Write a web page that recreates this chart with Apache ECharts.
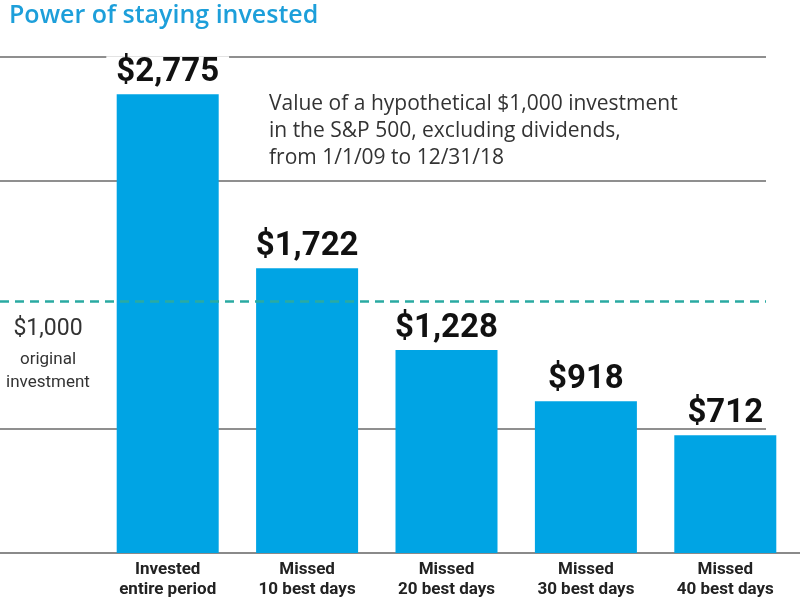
<!DOCTYPE html>
<html>

<head>
  <meta charset="utf-8">
  <title>Power of staying invested</title>
  <script src="https://cdn.jsdelivr.net/npm/echarts@6/dist/echarts.min.js"></script>
</head>

<body style="margin:0; background:#fff;">
  <div id="main" style="width: 800px; height: 607px;"></div>
  <script type="text/javascript">
    // values
    var categories = ['Invested\nentire period', 'Missed\n10 best days', 'Missed\n20 best days', 'Missed\n30 best days', 'Missed\n40 best days'];
    var values = [2775, 1722, 1228, 918, 712];
    var gridTicks = [0, 750, 1500, 2250, 3000];
    // where the dashed "$1,000 original investment" line sits on the drawn scale
    var originalLevel = 1520;

    var narrow = "Roboto, sans-serif";

    var myChart = echarts.init(document.getElementById('main'));

    var barData = values.map(function (v, i) {
      // the tallest label sits on a gridline and blanks it out
      if (i === 0) return { value: v, label: { backgroundColor: '#fff', padding: [0, 10] } };
      return v;
    });

    myChart.setOption({
      animation: false,
      title: [{
        text: 'Power of staying invested',
        left: 4, top: -2,
        textStyle: { color: '#1d9fda', fontSize: 25, fontWeight: 600, fontFamily: 'Open Sans' }
      }, {
        text: 'Value of a hypothetical $1,000 investment\nin the S&P 500, excluding dividends,\nfrom 1/1/09 to 12/31/18',
        left: 264, top: 86,
        textStyle: { color: '#333', fontSize: 21, fontWeight: 'normal', fontFamily: 'Open Sans', lineHeight: 27 }
      }, {
        text: '$1,000',
        left: 43, top: 313, textAlign: 'center',
        textStyle: { color: '#333', fontSize: 23, fontWeight: 'normal', fontFamily: narrow }
      }, {
        text: 'original\ninvestment',
        left: 43, top: 343, textAlign: 'center',
        textStyle: { color: '#333', fontSize: 17, fontWeight: 'normal', fontFamily: narrow, lineHeight: 23 }
      }],
      grid: [
        // horizontal gridlines
        { left: 0, right: 34, top: 57, bottom: 54 },
        // baseline, full width
        { left: 0, right: 0, top: 57, bottom: 54 },
        // bars
        { left: 98, right: 5, top: 57, bottom: 54 }
      ],
      xAxis: [
        { gridIndex: 0, type: 'value', min: 0, max: 1, show: false },
        {
          gridIndex: 1, type: 'value', min: 0, max: 1,
          axisLine: { show: true, onZero: false, lineStyle: { color: '#8a8a8a', width: 2 } },
          axisTick: { show: false }, axisLabel: { show: false }, splitLine: { show: false }
        },
        {
          gridIndex: 2, type: 'category', data: categories,
          axisLine: { show: false }, axisTick: { show: false },
          axisLabel: {
            interval: 0, margin: 7, color: '#222', fontSize: 17, fontWeight: 'bold',
            fontFamily: narrow, lineHeight: 20
          }
        }
      ],
      yAxis: [
        {
          gridIndex: 0, type: 'value', min: gridTicks[0], max: gridTicks[gridTicks.length - 1],
          interval: gridTicks[1] - gridTicks[0],
          axisLine: { show: false }, axisTick: { show: false }, axisLabel: { show: false },
          splitLine: {
            show: true,
            lineStyle: { color: ['#6a6a6a', '#6a6a6a', 'rgba(0,0,0,0)', '#6a6a6a', '#6a6a6a'], width: 1.5 }
          }
        },
        { gridIndex: 1, type: 'value', min: 0, max: 3000, show: false },
        { gridIndex: 2, type: 'value', min: 0, max: 3000, show: false }
      ],
      series: [{
        type: 'line',
        xAxisIndex: 0, yAxisIndex: 0,
        data: [],
        markLine: {
          symbol: 'none', silent: true, label: { show: false },
          lineStyle: { color: '#2aaaa2', type: [9, 6], width: 2.5 },
          data: [{ yAxis: originalLevel }]
        }
      }, {
        type: 'bar',
        xAxisIndex: 2, yAxisIndex: 2,
        barWidth: 102,
        itemStyle: { color: '#00a4e4' },
        label: {
          show: true, position: 'top', distance: 5,
          color: '#111', fontSize: 33, fontWeight: 'bold', fontFamily: narrow,
          formatter: function (p) { return '$' + p.value.toLocaleString('en-US'); }
        },
        data: barData,
        z: 3
      }]
    });
  </script>
</body>

</html>
